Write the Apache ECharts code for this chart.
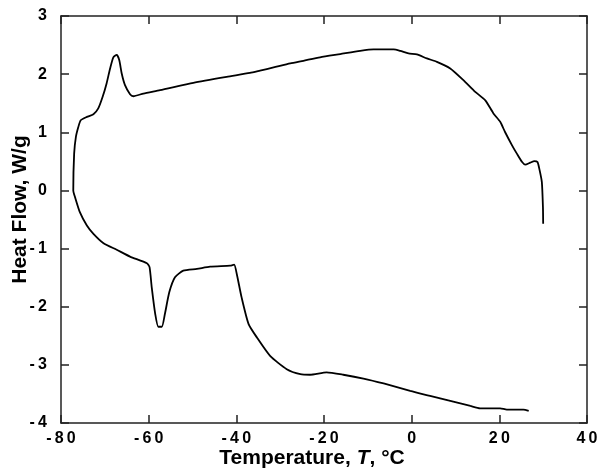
<!DOCTYPE html>
<html><head><meta charset="utf-8">
<script src="https://cdn.jsdelivr.net/npm/echarts@6/dist/echarts.min.js"></script>
<style>html,body{margin:0;padding:0;background:#fff}#c{width:602px;height:471px}</style>
</head><body><div id="c"></div>
<script>
// Temperature (°C) along the trace
const temps = [
  30.0, 29.95, 29.7, 29.2, 28.7, 28.0, 27.05, 25.9, 25.2, 24.0, 22.9, 21.3, 20.2, 18.7, 16.8, 14.5, 11.8, 8.8, 5.76, 3.47, 1.19, -0.72, -2.6, -4.1, -8.7, -11.75, -16.3, -20.9, -24.7, -27.7, -31.5, -34.6, -36.9, -42.2, -49.8, -57.4, -61.2, -63.5, -64.25, -65.4, -66.15, -66.7, -67.3, -68.06, -68.8, -69.6, -70.5, -71.5, -72.6, -74.1, -75.5, -76.05, -76.6, -77.0, -77.2, -76.8, -75.7, -74.1, -72.6, -70.3, -67.3, -64.25, -60.4, -59.8, -59.3, -58.5, -57.8, -57.0, -56.3, -55.3, -54.0, -52.1, -49.0, -46.0, -41.4, -40.5, -39.9, -38.8, -37.2, -35.3, -32.3, -28.5, -25.4, -23.2, -19.4, -15.6, -11.0, -6.4, -0.34, 4.2, 8.8, 13.4, 15.6, 20.2, 21.7, 25.5, 26.7
];
// Heat flow (W/g) along the trace
const heatFlow = [
  -0.575, -0.29, 0.143, 0.345, 0.488, 0.505, 0.477, 0.443, 0.488, 0.633, 0.776, 1.005, 1.18, 1.32, 1.55, 1.695, 1.897, 2.098, 2.212, 2.27, 2.34, 2.356, 2.40, 2.425, 2.425, 2.40, 2.345, 2.29, 2.23, 2.184, 2.115, 2.06, 2.02, 1.953, 1.85, 1.724, 1.667, 1.62, 1.655, 1.81, 2.01, 2.24, 2.33, 2.29, 2.098, 1.84, 1.61, 1.41, 1.31, 1.264, 1.207, 1.09, 0.92, 0.633, 0.0, -0.115, -0.374, -0.603, -0.747, -0.908, -1.02, -1.138, -1.253, -1.32, -1.667, -2.126, -2.345, -2.345, -2.126, -1.753, -1.494, -1.38, -1.35, -1.31, -1.293, -1.276, -1.437, -1.84, -2.30, -2.53, -2.845, -3.074, -3.16, -3.17, -3.13, -3.17, -3.235, -3.32, -3.448, -3.534, -3.62, -3.707, -3.747, -3.747, -3.77, -3.77, -3.79
];
const xTicks = [-80, -60, -40, -20, 0, 20, 40];
const yTicks = [-4, -3, -2, -1, 0, 1, 2, 3];

const data = temps.map((t, i) => [t, heatFlow[i]]);
const font = 'Liberation Sans';
const spaced = v => String(v).split('').join('\u2009');
const axisLine = {show: true, onZero: false, lineStyle: {color: '#222', width: 1.5}};
const tick = {show: true, inside: true, length: 8, lineStyle: {color: '#222', width: 1.5}};
const labelStyle = {color: '#000', fontFamily: font, fontWeight: 'bold', fontSize: 16, formatter: spaced};
const chart = echarts.init(document.getElementById('c'));
chart.setOption({
  animation: false,
  backgroundColor: '#fff',
  grid: {left: 61, right: 15, top: 16, bottom: 48, containLabel: false, outerBoundsMode: 'none'},
  xAxis: [{
    type: 'value', min: xTicks[0], max: xTicks[xTicks.length - 1], interval: 20,
    axisLine, axisTick: tick, splitLine: {show: false},
    axisLabel: Object.assign({margin: 8}, labelStyle),
    name: '{a|Temperature, }{i|T}{a|, °C}', nameLocation: 'middle', nameGap: 25, nameMoveOverlap: false,
    nameTextStyle: {padding: [0, 24, 0, 0], rich: {
      a: {fontFamily: font, fontWeight: 'bold', fontSize: 21, color: '#000'},
      i: {fontFamily: font, fontWeight: 'bold', fontStyle: 'italic', fontSize: 21, color: '#000'}
    }}
  }, {
    type: 'value', position: 'top', min: xTicks[0], max: xTicks[xTicks.length - 1], interval: 20,
    axisLine, axisTick: tick, axisLabel: {show: false}, splitLine: {show: false}
  }],
  yAxis: [{
    type: 'value', min: yTicks[0], max: yTicks[yTicks.length - 1], interval: 1,
    axisLine, axisTick: tick, splitLine: {show: false},
    axisLabel: Object.assign({margin: 14}, labelStyle),
    name: 'Heat Flow, W/g', nameLocation: 'middle', nameGap: 30, nameMoveOverlap: false,
    nameTextStyle: {fontFamily: font, fontWeight: 'bold', fontSize: 21, color: '#000', padding: [0, 0, 0, 20]}
  }, {
    type: 'value', position: 'right', min: yTicks[0], max: yTicks[yTicks.length - 1], interval: 1,
    axisLine, axisTick: tick, axisLabel: {show: false}, splitLine: {show: false}
  }],
  series: [{
    type: 'line', data, showSymbol: false, smooth: 0.2,
    lineStyle: {color: '#000', width: 1.8}
  }]
});
</script></body></html>
